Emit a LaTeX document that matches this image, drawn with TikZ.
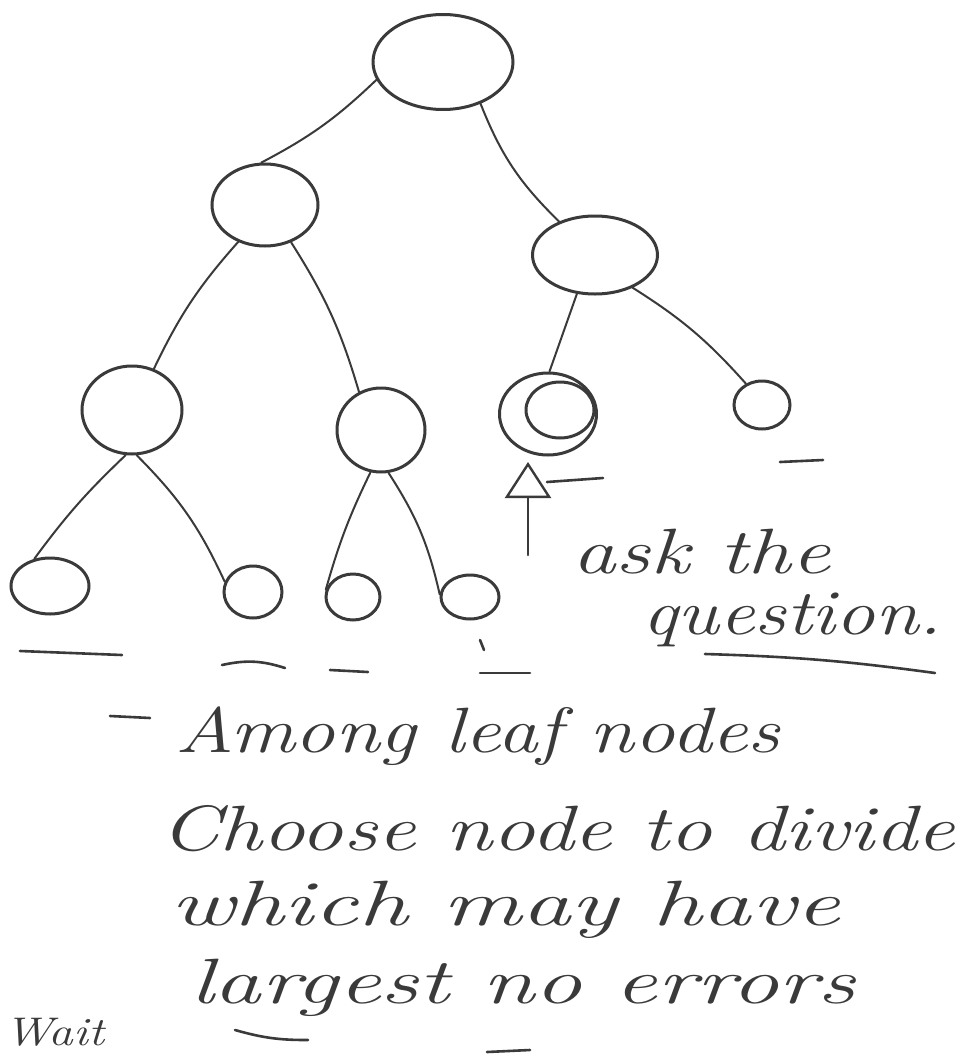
\documentclass[tikz,border=0pt]{standalone}
\usepackage{graphicx}
\usetikzlibrary{shapes.geometric,arrows.meta}
\definecolor{ink}{HTML}{3A3A3A}
\newcommand{\hand}[2]{\resizebox{#1}{\height}{\fontsize{64}{68}\selectfont\itshape #2}}
\begin{document}
\begin{tikzpicture}[x=1pt,y=-1pt,
  bubble/.style={draw=ink,ellipse,line width=3pt,inner sep=0pt},
  edge/.style={draw=ink,line width=2pt,line cap=round},
  stroke/.style={draw=ink,line width=2.6pt,line cap=round},
  words/.style={text=ink,inner sep=0pt,anchor=base west}]
\useasboundingbox (0,0) rectangle (978,1055);
\begin{scope}
\clip (0,0) rectangle (978,1055);
% tree nodes
\node[bubble,minimum width=140pt,minimum height=95pt] (root) at (443,62) {};
\node[bubble,minimum width=106pt,minimum height=82pt] (L) at (265,205) {};
\node[bubble,minimum width=125pt,minimum height=78pt] (R) at (595,255) {};
\node[bubble,minimum width=100pt,minimum height=88pt] (LL) at (132,410) {};
\node[bubble,minimum width=88pt,minimum height=84pt] (LR) at (381,430) {};
\node[bubble,minimum width=97pt,minimum height=82pt] (RL) at (548,414) {};
\node[bubble,minimum width=68pt,minimum height=56pt] (RLin) at (560,410) {};
\node[bubble,minimum width=56pt,minimum height=48pt] (RR) at (762,405) {};
\node[bubble,minimum width=78pt,minimum height=56pt] (LLL) at (50,586) {};
\node[bubble,minimum width=58pt,minimum height=52pt] (LLR) at (253,592) {};
\node[bubble,minimum width=54pt,minimum height=46pt] (LRL) at (353,597) {};
\node[bubble,minimum width=58pt,minimum height=44pt] (LRR) at (470,597) {};
% branches
\draw[edge] (root.195) to[bend left=8] (L.95);
\draw[edge] (root.312) to[bend right=12] (R.137);
\draw[edge] (L.234) to[bend right=8] (LL.62);
\draw[edge] (L.305) to[bend left=8] (LR.120);
\draw[edge] (R.245) -- (RL.88);
\draw[edge] (R.319) to[bend left=8] (RR.127);
\draw[edge] (LL.262) to[bend right=5] (LLL.120);
\draw[edge] (LL.276) to[bend left=10] (LLR.160);
\draw[edge] (LR.256) to[bend right=5] (LRL.165);
\draw[edge] (LR.280) to[bend left=10] (LRR.175);
% leaf underlines
\coordinate (u1a) at (20,651); \coordinate (u1b) at (122,655);
\draw[stroke] (u1a) -- (u1b);
\coordinate (u2a) at (222,665); \coordinate (u2b) at (285,668);
\draw[stroke] (u2a) to[bend left=15] (u2b);
\coordinate (u3a) at (330,670); \coordinate (u3b) at (368,672);
\draw[stroke] (u3a) -- (u3b);
\coordinate (u4a) at (480,673); \coordinate (u4b) at (530,673);
\draw[stroke] (u4a) -- (u4b);
\coordinate (u5a) at (780,462); \coordinate (u5b) at (823,460);
\draw[stroke] (u5a) -- (u5b);
\coordinate (c1a) at (480,640); \coordinate (c1b) at (484,650);
\draw[stroke] (c1a) -- (c1b);
% pointer to the chosen node
\coordinate (ptail) at (528,555);
\coordinate (phead) at (528,462);
\draw[stroke,-{Triangle[open,length=36pt,width=46pt,line width=2.4pt]}] (ptail) -- (phead);
\coordinate (sa) at (547,482); \coordinate (sb) at (603,478);
\draw[stroke] (sa) -- (sb);
% notes
\node[words] (ask) at (572,573) {\hand{258pt}{ask the}};
\node[words] (quest) at (642,634) {\hand{300pt}{question.}};
\coordinate (qa) at (705,654); \coordinate (qb) at (935,673);
\draw[stroke] (qa) to[bend left=3] (qb);
\coordinate (da) at (110,716); \coordinate (db) at (150,718);
\draw[stroke] (da) -- (db);
\node[words] (l1) at (175,752) {\hand{605pt}{Among leaf nodes}};
\node[words] (l2) at (160,850) {\hand{795pt}{Choose node to divide}};
\node[words] (l3) at (170,925) {\hand{670pt}{which may have}};
\node[words] (l4) at (190,1003) {\hand{665pt}{largest no errors}};
\coordinate (la) at (235,1030); \coordinate (lb) at (308,1040);
\draw[stroke] (la) to[bend right=8] (lb);
\coordinate (ea) at (487,1052); \coordinate (eb) at (530,1050);
\draw[stroke] (ea) -- (eb);
\node[words] (w) at (4,1045) {\resizebox{100pt}{\height}{\fontsize{40}{44}\selectfont\itshape\color{ink}Wait}};
\end{scope}
\end{tikzpicture}
\end{document}
